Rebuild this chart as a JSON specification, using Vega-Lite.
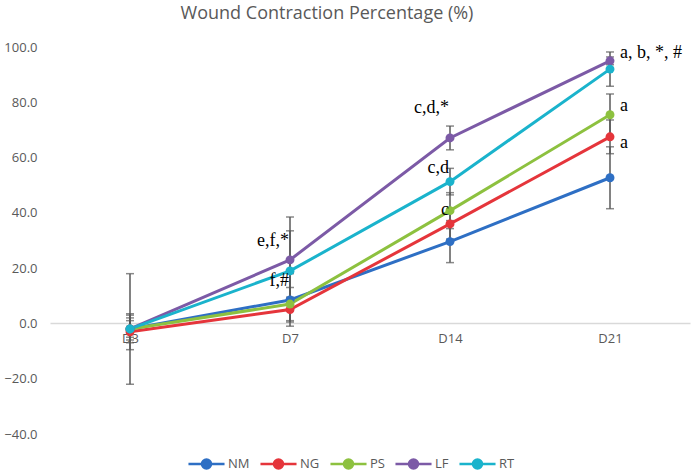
{
  "$schema": "https://vega.github.io/schema/vega-lite/v6.json",
  "autosize": "none",
  "width": 640,
  "height": 387,
  "padding": {"left": 50, "top": 47, "right": 2, "bottom": 42},
  "background": "white",
  "title": {
    "text": "Wound Contraction Percentage (%)",
    "font": "Open Sans",
    "fontSize": 18,
    "fontWeight": "normal",
    "color": "#595959",
    "anchor": "middle",
    "frame": "group",
    "dx": -43,
    "offset": 18
  },
  "config": {
    "view": {"stroke": null},
    "axis": {"labelFont": "Open Sans", "labelColor": "#595959", "labelFontSize": 13}
  },
  "datasets": {
    "points": [
      {"day": "D3", "group": "NM", "value": -2.0, "err": 20.0},
      {"day": "D3", "group": "NG", "value": -3.0, "err": 6.5},
      {"day": "D3", "group": "PS", "value": -2.0, "err": 5.0},
      {"day": "D3", "group": "LF", "value": -2.0, "err": 4.0},
      {"day": "D3", "group": "RT", "value": -2.0, "err": 3.0},
      {"day": "D7", "group": "NM", "value": 8.5, "err": 9.5},
      {"day": "D7", "group": "NG", "value": 5.0, "err": 4.5},
      {"day": "D7", "group": "PS", "value": 7.0, "err": 6.0},
      {"day": "D7", "group": "LF", "value": 23.0, "err": 15.5},
      {"day": "D7", "group": "RT", "value": 19.0, "err": 14.5},
      {"day": "D14", "group": "NM", "value": 29.6, "err": 7.6},
      {"day": "D14", "group": "NG", "value": 36.0, "err": 5.5},
      {"day": "D14", "group": "PS", "value": 40.8, "err": 6.5},
      {"day": "D14", "group": "LF", "value": 67.1, "err": 4.3},
      {"day": "D14", "group": "RT", "value": 51.3, "err": 4.8},
      {"day": "D21", "group": "NM", "value": 52.7, "err": 11.2},
      {"day": "D21", "group": "NG", "value": 67.5, "err": 6.1},
      {"day": "D21", "group": "PS", "value": 75.5, "err": 7.5},
      {"day": "D21", "group": "LF", "value": 95.0, "err": 1.4},
      {"day": "D21", "group": "RT", "value": 92.0, "err": 6.2}
    ],
    "labels": [
      {"day": "D7", "value": 30.0, "text": "e,f,*", "side": "left"},
      {"day": "D7", "value": 15.5, "text": "f,#", "side": "left"},
      {"day": "D14", "value": 78.0, "text": "c,d,*", "side": "left"},
      {"day": "D14", "value": 56.3, "text": "c,d", "side": "left"},
      {"day": "D14", "value": 41.0, "text": "c", "side": "left"},
      {"day": "D21", "value": 97.8, "text": "a, b, *, #", "side": "right"},
      {"day": "D21", "value": 78.7, "text": "a", "side": "right"},
      {"day": "D21", "value": 65.3, "text": "a", "side": "right"}
    ]
  },
  "encoding": {
    "x": {
      "field": "day",
      "type": "ordinal",
      "sort": ["D3", "D7", "D14", "D21"],
      "scale": {"type": "point", "padding": 0.5},
      "axis": {
        "title": null,
        "labelAngle": 0,
        "ticks": false,
        "domainColor": "#d9d9d9",
        "domainWidth": 1.5,
        "offset": -111,
        "labelPadding": 9,
        "zindex": 0
      }
    }
  },
  "layer": [
    {
      "data": {"name": "points"},
      "mark": {"type": "errorbar", "ticks": {"size": 8}, "color": "#595959", "thickness": 1.5},
      "encoding": {
        "y": {"field": "value", "type": "quantitative"},
        "yError": {"field": "err"}
      }
    },
    {
      "data": {"name": "points"},
      "mark": {"type": "line", "strokeWidth": 3, "point": {"filled": true, "size": 80, "opacity": 1}},
      "encoding": {
        "y": {
          "field": "value",
          "type": "quantitative",
          "scale": {"domain": [-40, 100], "nice": false},
          "axis": {
            "title": null,
            "format": ".1f",
            "values": [-40, -20, 0, 20, 40, 60, 80, 100],
            "grid": false,
            "domain": false,
            "ticks": false,
            "labelPadding": 13
          }
        },
        "color": {
          "field": "group",
          "type": "nominal",
          "sort": ["NM", "NG", "PS", "LF", "RT"],
          "scale": {
            "domain": ["NM", "NG", "PS", "LF", "RT"],
            "range": ["#2e6fc4", "#e5353b", "#8dc13f", "#7c5aa6", "#1ab3cc"]
          },
          "legend": {
            "title": null,
            "orient": "none",
            "legendX": 137,
            "legendY": 397,
            "direction": "horizontal",
            "labelFont": "Open Sans",
            "labelFontSize": 13,
            "labelColor": "#595959",
            "symbolType": "M-1,0H1M-0.25,0A0.25,0.25,0,1,1,0.25,0A0.25,0.25,0,1,1,-0.25,0Z",
            "symbolSize": 1300,
            "symbolStrokeWidth": 2.5,
            "columnPadding": 5,
            "labelOffset": 2
          }
        }
      }
    },
    {
      "data": {"name": "labels"},
      "transform": [{"filter": "datum.side == 'left'"}],
      "mark": {"type": "text", "align": "right", "baseline": "middle", "dx": -1, "font": "Liberation Serif", "fontSize": 18, "color": "#000000"},
      "encoding": {
        "y": {"field": "value", "type": "quantitative"},
        "text": {"field": "text"}
      }
    },
    {
      "data": {"name": "labels"},
      "transform": [{"filter": "datum.side == 'right'"}],
      "mark": {"type": "text", "align": "left", "baseline": "middle", "dx": 10, "font": "Liberation Serif", "fontSize": 18, "color": "#000000"},
      "encoding": {
        "y": {"field": "value", "type": "quantitative"},
        "text": {"field": "text"}
      }
    }
  ]
}
